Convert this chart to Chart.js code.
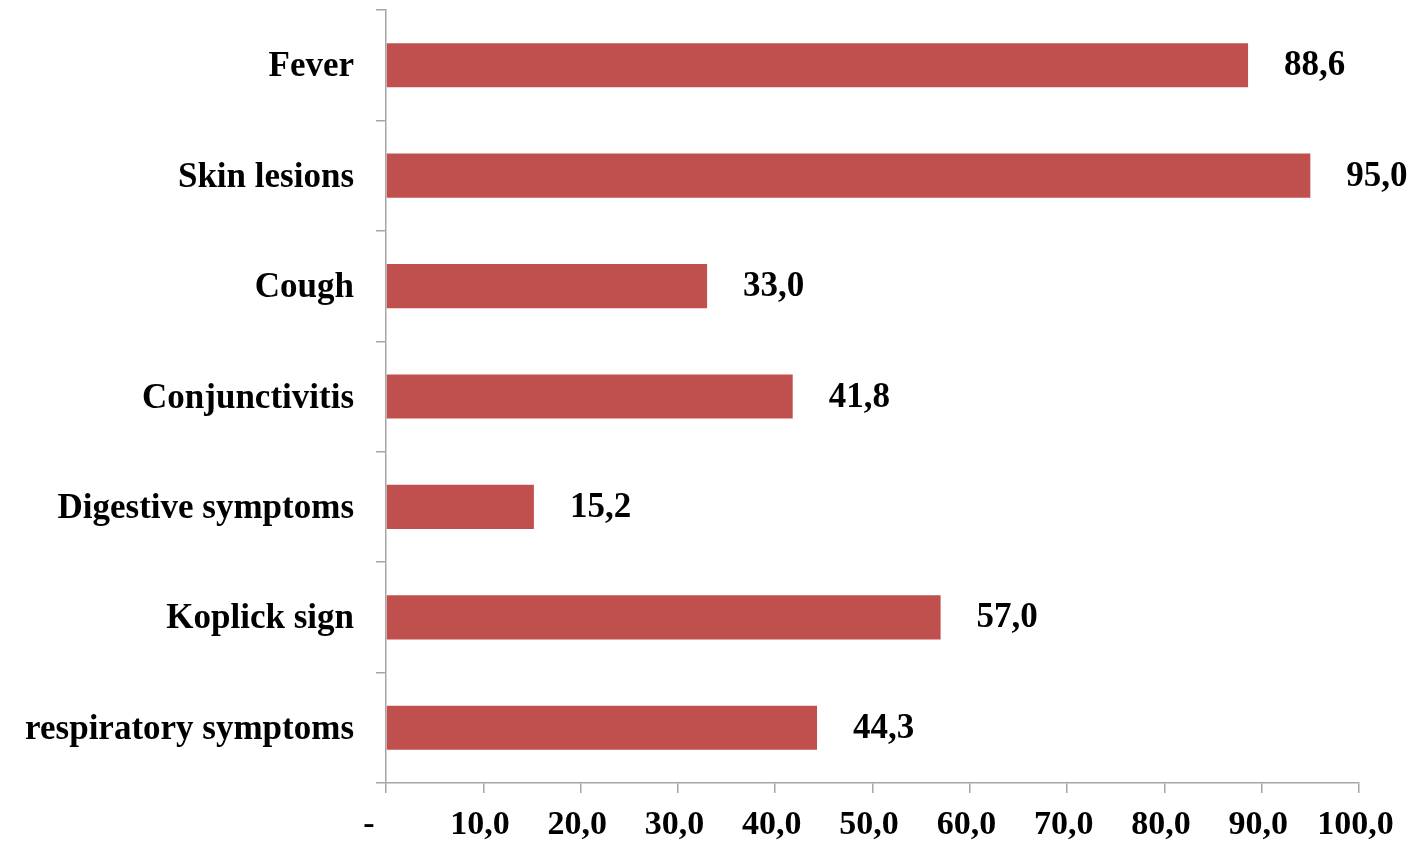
<!DOCTYPE html>
<html>
<head>
<meta charset="utf-8">
<script src="https://cdn.jsdelivr.net/npm/chart.js@4"></script>
<style>
  html, body { margin: 0; padding: 0; background: #ffffff; }
  canvas { display: block; }
</style>
</head>
<body>
<canvas id="chart" width="1412" height="845"></canvas>
<script>
// Symptom categories (top to bottom) and their percentages
const symptoms = [
  'Fever',
  'Skin lesions',
  'Cough',
  'Conjunctivitis',
  'Digestive symptoms',
  'Koplick sign',
  'respiratory symptoms'
];
const percentages = [88.6, 95.0, 33.0, 41.8, 15.2, 57.0, 44.3];

// Axis range and step for the percentage scale
const axisMin = 0;
const axisMax = 100;
const axisStep = 10;

const FONT = "'Liberation Serif', 'Times New Roman', serif";
const AXIS_GREY = '#a6a6a6';
const BAR_RED = '#c0504d';

// Decimal comma formatting, with a dash for zero (accounting style padding)
function fmt(v) {
  if (v === 0) return '-\u2007\u2007';
  return v.toFixed(1).replace('.', ',') + '\u2009';
}

// Writes each bar's value just past its end
const valueLabels = {
  id: 'valueLabels',
  afterDatasetsDraw(chart) {
    const ctx = chart.ctx;
    const meta = chart.getDatasetMeta(0);
    ctx.save();
    ctx.font = "bold 35px " + FONT;
    ctx.fillStyle = '#000000';
    ctx.textAlign = 'left';
    ctx.textBaseline = 'middle';
    meta.data.forEach((bar, i) => {
      const v = chart.data.datasets[0].data[i];
      ctx.fillText(v.toFixed(1).replace('.', ','), bar.x + 36, bar.y + 1);
    });
    ctx.restore();
  }
};

new Chart(document.getElementById('chart'), {
  type: 'bar',
  data: {
    labels: symptoms,
    datasets: [{
      data: percentages,
      backgroundColor: BAR_RED,
      borderWidth: 0,
      barPercentage: 0.4,
      categoryPercentage: 1.0
    }]
  },
  options: {
    indexAxis: 'y',
    responsive: false,
    animation: false,
    layout: { padding: { top: 10, right: 53, bottom: 0, left: 0 } },
    plugins: {
      legend: { display: false },
      tooltip: { enabled: false }
    },
    scales: {
      x: {
        min: axisMin,
        max: axisMax,
        border: { display: true, color: AXIS_GREY, width: 1.5 },
        grid: {
          drawOnChartArea: false,
          drawTicks: true,
          tickLength: 10,
          color: AXIS_GREY,
          lineWidth: 1.5
        },
        ticks: {
          stepSize: axisStep,
          autoSkip: false,
          maxRotation: 0,
          padding: 12,
          color: '#000000',
          font: { family: FONT, size: 34, weight: 'bold' },
          callback: (v) => fmt(v)
        },
        afterFit(scale) {
          scale.height = 62;
          scale.paddingLeft = 0;
          scale.paddingRight = 0;
        }
      },
      y: {
        border: { display: true, color: AXIS_GREY, width: 1.5 },
        grid: {
          offset: true,
          drawOnChartArea: false,
          drawTicks: true,
          tickLength: 10,
          color: AXIS_GREY,
          lineWidth: 1.5
        },
        ticks: {
          padding: 22,
          labelOffset: 2,
          color: '#000000',
          font: { family: FONT, size: 35, weight: 'bold' }
        },
        afterFit(scale) {
          scale.width = 386;
          scale.paddingTop = 0;
          scale.paddingBottom = 0;
        }
      }
    }
  },
  plugins: [valueLabels]
});
</script>
</body>
</html>
